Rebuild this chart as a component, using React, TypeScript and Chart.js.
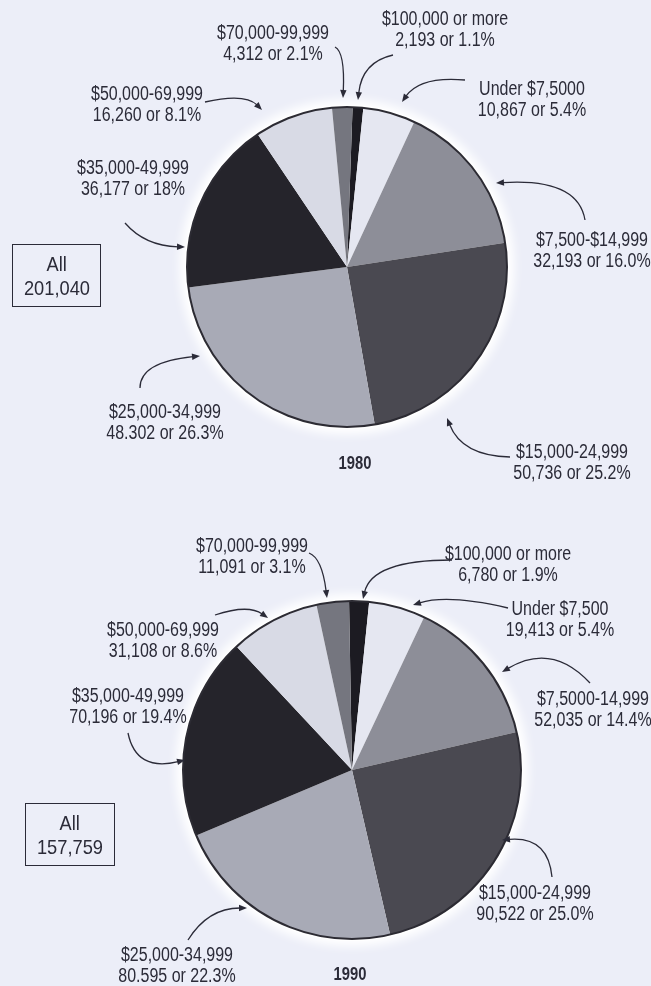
import React, { useEffect, useRef } from "react";
import { Chart, registerables } from "chart.js";

Chart.register(...registerables);

// ---------- data ----------
const categories = [
  "$100,000 or more",
  "Under $7,500",
  "$7,500-14,999",
  "$15,000-24,999",
  "$25,000-34,999",
  "$35,000-49,999",
  "$50,000-69,999",
  "$70,000-99,999",
];
const pct1980 = [1.1, 5.4, 16.0, 25.2, 26.3, 18.0, 8.1, 2.1];
const pct1990 = [1.9, 5.4, 14.4, 25.0, 22.3, 19.4, 8.6, 3.1];
const labels1980 = [
  ["$100,000 or more", "2,193 or 1.1%"],
  ["Under $7,5000", "10,867 or 5.4%"],
  ["$7,500-$14,999", "32,193 or 16.0%"],
  ["$15,000-24,999", "50,736 or 25.2%"],
  ["$25,000-34,999", "48.302 or 26.3%"],
  ["$35,000-49,999", "36,177 or 18%"],
  ["$50,000-69,999", "16,260 or 8.1%"],
  ["$70,000-99,999", "4,312 or 2.1%"],
];
const labels1990 = [
  ["$100,000 or more", "6,780 or 1.9%"],
  ["Under $7,500", "19,413 or 5.4%"],
  ["$7,5000-14,999", "52,035 or 14.4%"],
  ["$15,000-24,999", "90,522 or 25.0%"],
  ["$25,000-34,999", "80.595 or 22.3%"],
  ["$35,000-49,999", "70,196 or 19.4%"],
  ["$50,000-69,999", "31,108 or 8.6%"],
  ["$70,000-99,999", "11,091 or 3.1%"],
];
const totals = ["201,040", "157,759"];
const years = ["1980", "1990"];

// ---------- styling / layout ----------
const sliceColors = [
  "#1c1b22",
  "#e5e7f1",
  "#8d8e98",
  "#4a4951",
  "#a8aab6",
  "#25242b",
  "#d8dae5",
  "#75767f",
];
const TEXT = "#2b2b38";
const BG = "#eceef8";

// label anchor positions (center x, first line y) per slice, page coords
const labelPos1980 = [
  [445, 18],
  [532, 88],
  [592, 239],
  [572, 451],
  [165, 411],
  [133, 167],
  [147, 93],
  [273, 32],
];
const labelPos1990 = [
  [508, 553],
  [560, 608],
  [593, 698],
  [535, 892],
  [177, 954],
  [128, 695],
  [163, 629],
  [252, 545],
];
// callout arrows: from, control, to (page coords)
const arrows1980 = [
  [[393, 55], [362, 62], [358, 100]],
  [[465, 80], [420, 76], [402, 102]],
  [[585, 220], [578, 178], [496, 183]],
  [[510, 457], [462, 456], [447, 418]],
  [[140, 388], [140, 362], [200, 356]],
  [[125, 223], [145, 246], [185, 247]],
  [[205, 102], [245, 93], [262, 110]],
  [[335, 47], [345, 52], [343, 98]],
];
const arrows1990 = [
  [[452, 560], [372, 560], [363, 599]],
  [[508, 608], [448, 594], [413, 605]],
  [[590, 683], [552, 642], [502, 672]],
  [[552, 877], [548, 836], [502, 840]],
  [[188, 940], [208, 908], [247, 908]],
  [[128, 733], [136, 772], [185, 760]],
  [[215, 615], [248, 604], [268, 618]],
  [[309, 553], [322, 558], [327, 598]],
];

const W = 651;
const H = 493;

function makeDecor(arrows: number[][][], offsetTop: number) {
  return {
    id: "decor",
    beforeDatasetsDraw(chart: any) {
      const arc = chart.getDatasetMeta(0).data[0];
      if (!arc) return;
      const { x, y, outerRadius } = arc.getProps(["x", "y", "outerRadius"], true);
      const ctx = chart.ctx;
      ctx.save();
      ctx.fillStyle = "#ffffff";
      ctx.shadowColor = "#ffffff";
      ctx.shadowBlur = 14;
      for (let i = 0; i < 3; i++) {
        ctx.beginPath();
        ctx.arc(x, y, outerRadius + 2, 0, Math.PI * 2);
        ctx.fill();
      }
      ctx.restore();
    },
    afterDatasetsDraw(chart: any) {
      const arc = chart.getDatasetMeta(0).data[0];
      if (!arc) return;
      const { x, y, outerRadius } = arc.getProps(["x", "y", "outerRadius"], true);
      const ctx = chart.ctx;
      ctx.save();
      ctx.strokeStyle = "#2c2b33";
      ctx.lineWidth = 2;
      ctx.beginPath();
      ctx.arc(x, y, outerRadius, 0, Math.PI * 2);
      ctx.stroke();

      ctx.strokeStyle = TEXT;
      ctx.fillStyle = TEXT;
      ctx.lineWidth = 1.3;
      for (const a of arrows) {
        const [f, c, t] = a;
        const fx = f[0], fy = f[1] - offsetTop;
        const cx = c[0], cy = c[1] - offsetTop;
        const tx = t[0], ty = t[1] - offsetTop;
        let dx = tx - cx, dy = ty - cy;
        const len = Math.hypot(dx, dy) || 1;
        dx /= len; dy /= len;
        const hl = 8, hw = 3.2;
        const bx = tx - dx * hl, by = ty - dy * hl;
        ctx.beginPath();
        ctx.moveTo(fx, fy);
        ctx.quadraticCurveTo(cx, cy, bx + dx * 1, by + dy * 1);
        ctx.stroke();
        ctx.beginPath();
        ctx.moveTo(tx, ty);
        ctx.lineTo(bx - dy * hw, by + dx * hw);
        ctx.lineTo(bx + dy * hw, by - dx * hw);
        ctx.closePath();
        ctx.fill();
      }
      ctx.restore();
    },
  };
}

type PieProps = {
  values: number[];
  rotation: number;
  radius: number;
  padding: { left: number; top: number; right: number; bottom: number };
  arrows: number[][][];
  offsetTop: number;
};

function Pie({ values, rotation, radius, padding, arrows, offsetTop }: PieProps) {
  const ref = useRef<HTMLCanvasElement>(null);
  useEffect(() => {
    const chart = new Chart(ref.current as HTMLCanvasElement, {
      type: "pie",
      data: {
        labels: categories,
        datasets: [
          {
            data: values,
            backgroundColor: sliceColors,
            borderWidth: 0,
            rotation,
            radius,
          } as any,
        ],
      },
      options: {
        responsive: false,
        animation: false,
        rotation,
        radius,
        layout: { padding },
        plugins: { legend: { display: false }, tooltip: { enabled: false } },
      } as any,
      plugins: [makeDecor(arrows, offsetTop) as any],
    });
    return () => chart.destroy();
  }, []);
  return (
    <canvas
      ref={ref}
      width={W}
      height={H}
      style={{ position: "absolute", left: 0, top: offsetTop, width: W, height: H }}
    />
  );
}

function Label({ x, y, lines, size = 19.5, lh = 21, bold = false, sx = 0.82 }: any) {
  return (
    <div
      style={{
        position: "absolute",
        left: x,
        top: y - lh / 2,
        transform: `translateX(-50%) scaleX(${sx})`,
        transformOrigin: "center top",
        fontFamily: '"Liberation Sans", Arial, sans-serif',
        fontSize: size,
        lineHeight: lh + "px",
        textAlign: "center",
        whiteSpace: "nowrap",
        color: TEXT,
        fontWeight: bold ? 700 : 400,
      }}
    >
      {lines.map((l: string, i: number) => (
        <div key={i}>{l}</div>
      ))}
    </div>
  );
}

function TotalBox({ left, top, w, h, total }: any) {
  return (
    <div
      style={{
        position: "absolute",
        left,
        top,
        width: w,
        height: h,
        boxSizing: "border-box",
        border: `1.5px solid ${TEXT}`,
        display: "flex",
        flexDirection: "column",
        alignItems: "center",
        justifyContent: "center",
        fontFamily: '"Liberation Sans", Arial, sans-serif',
        fontSize: 21,
        lineHeight: "24px",
        color: TEXT,
      }}
    >
      <div style={{ transform: "scaleX(0.87)" }}>All</div>
      <div style={{ transform: "scaleX(0.87)" }}>{total}</div>
    </div>
  );
}

export default function App() {
  return (
    <div
      style={{
        position: "absolute",
        left: 0,
        top: 0,
        width: W,
        height: 986,
        background: BG,
        overflow: "hidden",
      }}
    >
      <Pie
        values={pct1980}
        rotation={2}
        radius={160}
        padding={{ left: 43, top: 41, right: 0, bottom: 0 }}
        arrows={arrows1980}
        offsetTop={0}
      />
      <Pie
        values={pct1990}
        rotation={-1}
        radius={169}
        padding={{ left: 53, top: 61, right: 0, bottom: 0 }}
        arrows={arrows1990}
        offsetTop={H}
      />
      {labels1980.map((l, i) => (
        <Label key={"a" + i} x={labelPos1980[i][0]} y={labelPos1980[i][1]} lines={l} />
      ))}
      {labels1990.map((l, i) => (
        <Label key={"b" + i} x={labelPos1990[i][0]} y={labelPos1990[i][1]} lines={l} />
      ))}
      <Label x={355} y={463} lines={[years[0]]} size={18} lh={20} bold />
      <Label x={350} y={974} lines={[years[1]]} size={18} lh={20} bold />
      <TotalBox left={12} top={244} w={89} h={63} total={totals[0]} />
      <TotalBox left={25} top={803} w={90} h={63} total={totals[1]} />
    </div>
  );
}
